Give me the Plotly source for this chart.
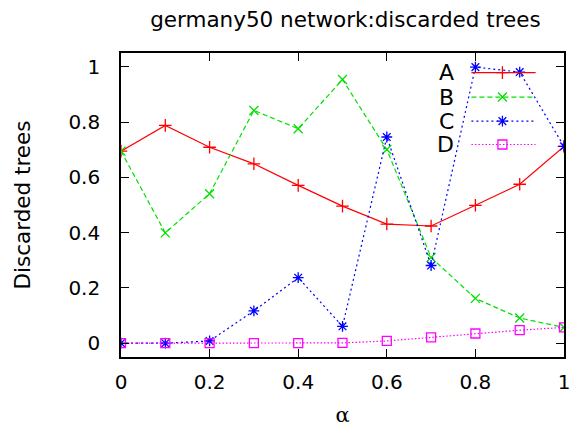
import plotly.graph_objects as go

alpha = [0, 0.1, 0.2, 0.3, 0.4, 0.5, 0.6, 0.7, 0.8, 0.9, 1.0]
A = [0.695, 0.788, 0.709, 0.649, 0.571, 0.496, 0.431, 0.424, 0.499, 0.575, 0.712]
B = [0.695, 0.399, 0.541, 0.842, 0.776, 0.954, 0.701, 0.310, 0.162, 0.091, 0.057]
C = [0.0, 0.0, 0.008, 0.117, 0.237, 0.061, 0.746, 0.281, 0.999, 0.981, 0.712]
D = [0.0, 0.0, 0.0, 0.0, 0.0, 0.001, 0.008, 0.021, 0.035, 0.047, 0.057]
names = ["A", "B", "C", "D"]
series = [A, B, C, D]
colors = ["#ff0000", "#00e000", "#0000ff", "#ff00ff"]
dashes = ["solid", "5px,3px", "2px,3px", "1.5px,2px"]
symbols = ["cross-thin", "x-thin", "asterisk", "square-open"]
xticks = [0, 0.2, 0.4, 0.6, 0.8, 1]
yticks = [0, 0.2, 0.4, 0.6, 0.8, 1]

FONT = "DejaVu Sans, sans-serif"

fig = go.Figure()
for nm, ys, col, da, sym in zip(names, series, colors, dashes, symbols):
    fig.add_trace(go.Scatter(
        x=alpha, y=ys, mode="lines+markers", name=nm, showlegend=False,
        line=dict(color=col, width=1.2, dash=da),
        marker=dict(symbol=sym, size=9, color=col, line=dict(color=col, width=1.3)),
    ))

# legend keys on an overlay axis spanning the plot area
rows = [0.9355, 0.855, 0.776, 0.699]
for nm, yr, col, da, sym in zip(names, rows, colors, dashes, symbols):
    fig.add_trace(go.Scatter(
        x=[0.791, 0.936], y=[yr, yr], mode="lines", xaxis="x2", yaxis="y2",
        showlegend=False, hoverinfo="skip",
        line=dict(color=col, width=1.2, dash=da),
    ))
    fig.add_trace(go.Scatter(
        x=[0.861], y=[yr], mode="markers", xaxis="x2", yaxis="y2",
        showlegend=False, hoverinfo="skip",
        marker=dict(symbol=sym, size=9, color=col, line=dict(color=col, width=1.3)),
    ))
    fig.add_annotation(x=0.757, y=yr, xref="paper", yref="paper", text=nm,
                       showarrow=False, xanchor="right", yanchor="middle",
                       font=dict(family=FONT, size=22, color="black"))

axis_common = dict(
    showline=True, linecolor="black", linewidth=1.6, mirror="ticks",
    ticks="inside", ticklen=8, tickwidth=1.3, tickcolor="black",
    showgrid=False, zeroline=False, automargin=False,
    tickfont=dict(family=FONT, size=20, color="black"),
)

fig.update_layout(
    width=571, height=432,
    margin=dict(l=121, r=7, t=53, b=75, autoexpand=False),
    paper_bgcolor="white", plot_bgcolor="white",
    title=dict(text="germany50 network:discarded trees", x=0.605, xanchor="center",
               y=0.956, yanchor="middle",
               font=dict(family=FONT, size=21.5, color="black")),
    xaxis=dict(range=[0, 1], tickvals=xticks, ticklabelstandoff=6,
               title=dict(text="α", font=dict(family="DejaVu Serif, serif", size=21, color="black"), standoff=15),
               **axis_common),
    yaxis=dict(range=[-0.05, 1.05], tickvals=yticks, ticklabelstandoff=15,
               title=dict(text="Discarded trees", font=dict(family=FONT, size=21.5, color="black"), standoff=32),
               **axis_common),
    xaxis2=dict(range=[0, 1], overlaying="x", visible=False, fixedrange=True),
    yaxis2=dict(range=[0, 1], overlaying="y", visible=False, fixedrange=True),
)

fig.write_html("out.html")
